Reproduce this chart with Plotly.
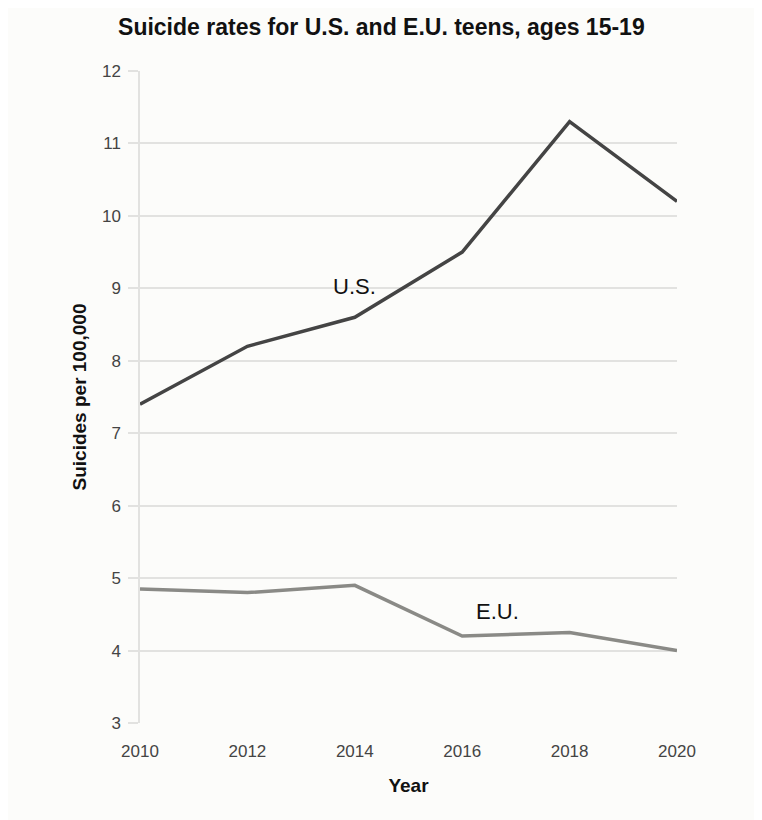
import plotly.graph_objects as go

years = [2010, 2012, 2014, 2016, 2018, 2020]
us_rates = [7.4, 8.2, 8.6, 9.5, 11.3, 10.2]
eu_rates = [4.85, 4.8, 4.9, 4.2, 4.25, 4.0]

bg = "#fcfcfa"
grid = "#e2e2e0"

fig = go.Figure()
fig.add_trace(go.Scatter(x=years, y=us_rates, mode="lines", name="U.S.",
                         line=dict(color="#444444", width=3.5)))
fig.add_trace(go.Scatter(x=years, y=eu_rates, mode="lines", name="E.U.",
                         line=dict(color="#8a8a86", width=3.5)))

#  Inline series labels
fig.add_annotation(x=2014.0, y=9.02, text="U.S.", showarrow=False,
                   font=dict(size=22, color="#111111"))
fig.add_annotation(x=2016.65, y=4.54, text="E.U.", showarrow=False,
                   font=dict(size=22, color="#111111"))

#  page body adds an 8px offset, margins compensate for it
fig.update_layout(
    width=762, height=820,
    title=dict(text="<b>Suicide rates for U.S. and E.U. teens, ages 15-19</b>",
               x=0.49, xanchor="center", y=0.977, yanchor="middle",
               font=dict(size=23, color="#111111")),
    font=dict(family="Liberation Sans, Arial, sans-serif", size=17, color="#444444"),
    showlegend=False,
    plot_bgcolor=bg, paper_bgcolor=bg,
    margin=dict(l=132, r=93, t=63, b=105),
)
fig.update_xaxes(range=[2010, 2020], tickvals=years, showgrid=False, zeroline=False,
                 showline=False, ticks="", ticklabelstandoff=16,
                 tickfont=dict(size=17, color="#444444"),
                 title=dict(text="<b>Year</b>", font=dict(size=19, color="#111111"), standoff=18))
fig.update_yaxes(range=[3, 12], dtick=1, showgrid=True, gridcolor=grid, gridwidth=1.5,
                 zeroline=False, showline=True, linecolor=grid, linewidth=1.5,
                 ticks="outside", ticklen=10, tickcolor=grid, tickwidth=1.5,
                 ticklabelstandoff=4, tickfont=dict(size=17, color="#444444"),
                 title=dict(text="<b>Suicides per 100,000</b>", font=dict(size=19, color="#111111"), standoff=10))

fig.write_html("out.html")
